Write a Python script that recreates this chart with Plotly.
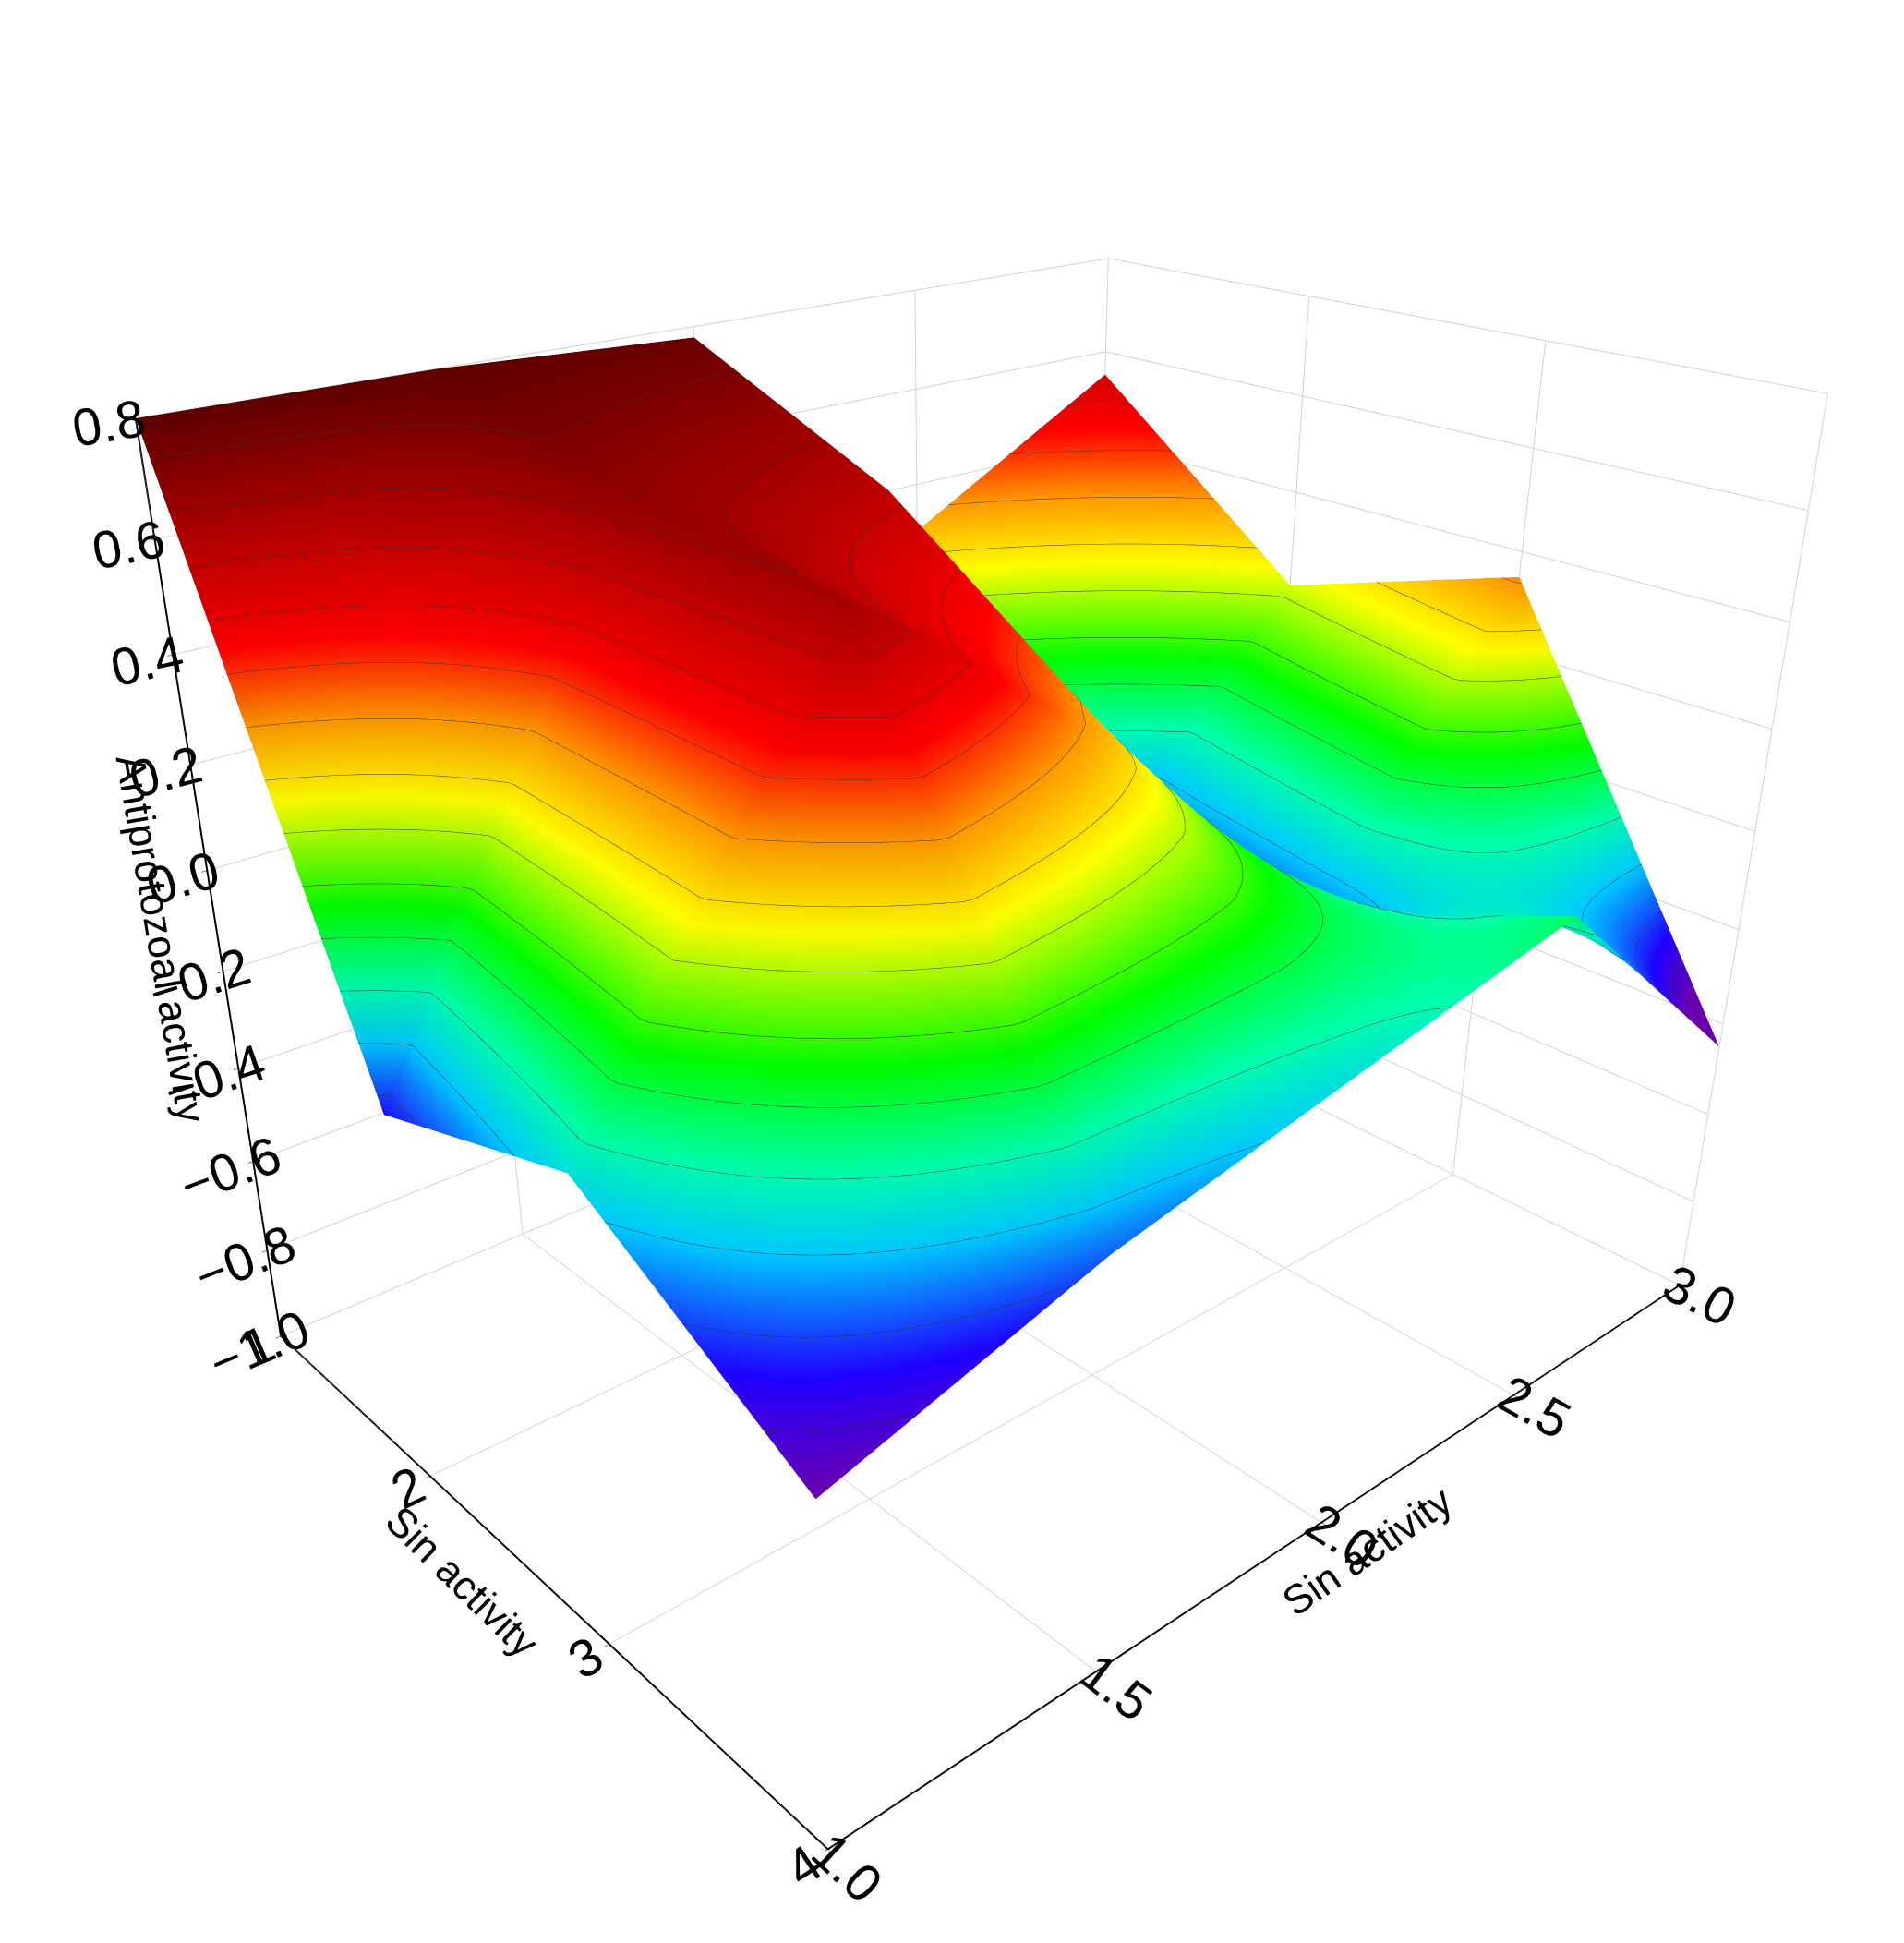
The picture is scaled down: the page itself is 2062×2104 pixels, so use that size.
import plotly.graph_objects as go

# grid of the surface
sin_a = [1, 2, 3, 4]               # left axis "Sin activity"
sin_b = [1.0, 1.5, 2.0, 2.5, 3.0]  # right axis "Sin activity"
# rows follow sin_b, columns follow sin_a
activity = [
    [0.80, -0.25, -0.10, -0.35],
    [0.80, 0.70, 0.65, -0.20],
    [0.78, 0.60, 0.30, -0.10],
    [0.30, -0.30, -0.20, 0.00],
    [0.55, 0.20, 0.35, -0.45],
]

rainbow = [
    [0.0, "#6a00b0"], [0.08, "#2000ff"], [0.18, "#00c8ff"], [0.26, "#00ffaa"],
    [0.36, "#00ff00"], [0.5, "#ffff00"], [0.6, "#ff9900"], [0.7, "#ff0000"],
    [0.85, "#b00000"], [1.0, "#600000"],
]

fig = go.Figure(go.Surface(
    x=sin_a, y=sin_b, z=activity,
    colorscale=rainbow, cmin=-0.35, cmax=0.8, showscale=False,
    contours=dict(z=dict(show=True, start=-0.3, end=0.8, size=0.08, color="#333333", width=1)),
    lighting=dict(ambient=0.95, diffuse=0.1, specular=0.0),
))

axis_font = dict(family="Liberation Sans", size=44, color="black")
tick_font = dict(family="Liberation Sans", size=26, color="black")

def ax(title, rng, dtick, fmt):
    return dict(title=dict(text=title, font=axis_font), range=rng, dtick=dtick,
                tickformat=fmt, tickfont=tick_font, showbackground=False,
                gridcolor="#d0d0d0", linecolor="black", linewidth=4, showline=True,
                ticks="outside", tickcolor="black", zeroline=False)

fig.update_layout(
    width=2062, height=2104, paper_bgcolor="white",
    margin=dict(l=0, r=0, t=0, b=0),
    scene=dict(
        xaxis=ax("Sin activity", [1, 4], 1, "d"),
        yaxis=ax("Sin activity", [1, 3], 0.5, ".1f"),
        zaxis=ax("Antiprotozoal activity", [-1, 0.8], 0.2, ".1f"),
        aspectmode="manual", aspectratio=dict(x=1.05, y=1.35, z=1.1),
        camera=dict(eye=dict(x=1.75, y=-1.6, z=1.1), center=dict(x=-0.06, y=0, z=-0.12)),
    ),
)

fig.write_html("out.html")
